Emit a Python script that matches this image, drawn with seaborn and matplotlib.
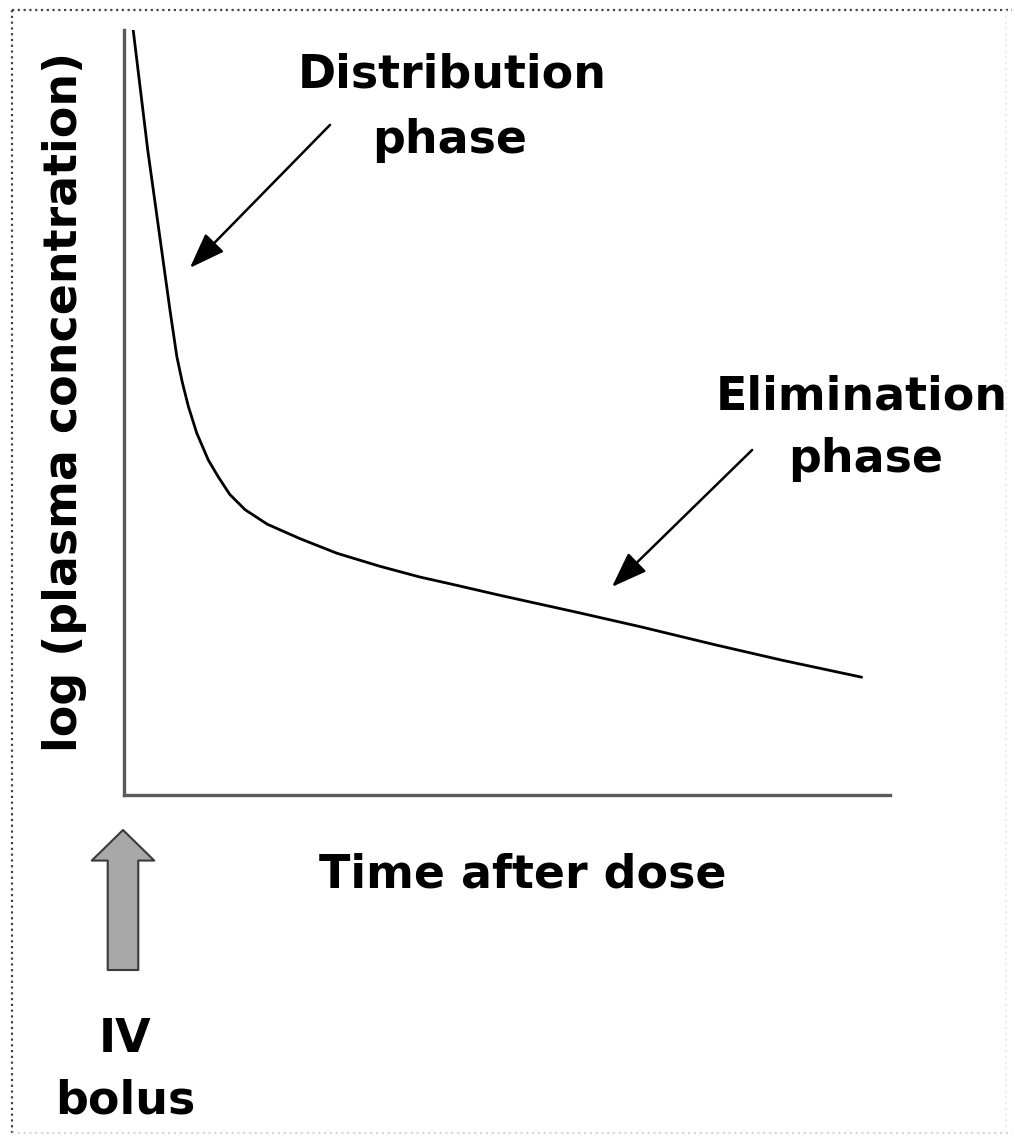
import matplotlib
matplotlib.use('Agg')
import matplotlib.pyplot as plt
from matplotlib.lines import Line2D
import seaborn as sns

# time after dose (arbitrary units) and log plasma concentration
time_after_dose = [0.12, 0.31, 0.51, 0.60, 0.69, 0.76, 0.84, 0.95, 1.10, 1.23,
                   1.38, 1.58, 1.87, 2.30, 2.78, 3.34, 3.86, 4.26, 4.91, 5.95,
                   6.74, 7.69, 8.60, 9.63]
log_conc = [10.0, 8.43, 6.99, 6.34, 5.73, 5.40, 5.08, 4.73, 4.38, 4.16,
            3.93, 3.73, 3.54, 3.35, 3.16, 2.99, 2.85, 2.76, 2.61, 2.38,
            2.20, 1.97, 1.76, 1.54]

x_label = 'Time after dose'
y_label = 'log (plasma concentration)'
phase_labels = [('Distribution', 'phase'), ('Elimination', 'phase')]
bolus_label = ('IV', 'bolus')

sns.set_style('white')
plt.rcParams['font.family'] = ['DejaVu Sans']

W, H = 1015, 1140
fig = plt.figure(figsize=(W / 100, H / 100), dpi=100)
fig.patch.set_facecolor('white')

def fx(px):
    return px / W

def fy(py):
    return 1 - py / H

ax = fig.add_axes([fx(124), fy(795), 766 / W, 765 / H])
sns.lineplot(x=time_after_dose, y=log_conc, color='black', linewidth=2.0, ax=ax)
ax.set_xlim(0, 10)
ax.set_ylim(0, 10)
ax.set_xticks([])
ax.set_yticks([])
ax.set_xlabel('')
ax.set_ylabel('')
sns.despine(ax=ax)
for s in ['left', 'bottom']:
    ax.spines[s].set_color('#5a5a5a')
    ax.spines[s].set_linewidth(2.4)

font = dict(fontsize=33, fontweight='bold', color='black')

# axis labels
fig.text(fx(65), fy(402), y_label, rotation=90, ha='center', va='center', **font)
fig.text(fx(523), fy(887), x_label, ha='center', va='baseline', **font)

# phase labels
fig.text(fx(452), fy(88), phase_labels[0][0], ha='center', va='baseline', **font)
fig.text(fx(450), fy(153), phase_labels[0][1], ha='center', va='baseline', **font)
fig.text(fx(862), fy(410), phase_labels[1][0], ha='center', va='baseline', **font)
fig.text(fx(866), fy(472), phase_labels[1][1], ha='center', va='baseline', **font)

# arrows pointing to the curve
arrow = dict(arrowstyle='-|>,head_length=1.1,head_width=0.4', color='black',
             lw=1.8, mutation_scale=20, shrinkA=0, shrinkB=0)
ax.annotate('', xy=(0.86, 6.89), xytext=(2.69, 8.76), arrowprops=arrow)
ax.annotate('', xy=(6.37, 2.72), xytext=(8.20, 4.51), arrowprops=arrow)

# IV bolus block arrow
ax.annotate('', xy=(123, H - 830), xytext=(123, H - 970), xycoords='figure pixels',
            textcoords='figure pixels', annotation_clip=False,
            arrowprops=dict(arrowstyle='simple,head_length=1.1,head_width=2.25,tail_width=1.1',
                            fc='#a8a8a8', ec='#3a3a3a', lw=1.5, mutation_scale=20,
                            shrinkA=0, shrinkB=0))
fig.text(fx(125), fy(1052), bolus_label[0], ha='center', va='baseline', **font)
fig.text(fx(125), fy(1113), bolus_label[1], ha='center', va='baseline', **font)

# dotted frame round the picture
dots = (0, (1, 1.6))
fig.add_artist(Line2D([fx(12), fx(1012)], [fy(10), fy(10)], transform=fig.transFigure,
                      color='#444444', lw=1.6, linestyle=dots))
fig.add_artist(Line2D([fx(12), fx(12)], [fy(10), fy(1133)], transform=fig.transFigure,
                      color='#444444', lw=1.6, linestyle=dots))
fig.add_artist(Line2D([fx(12), fx(1012)], [fy(1133), fy(1133)], transform=fig.transFigure,
                      color='#d8d8d8', lw=1.6, linestyle=dots))
fig.add_artist(Line2D([fx(1006), fx(1006)], [fy(10), fy(1133)], transform=fig.transFigure,
                      color='#f0ecd8', lw=1.6, linestyle=dots))

fig.savefig('out.png', dpi=100)
